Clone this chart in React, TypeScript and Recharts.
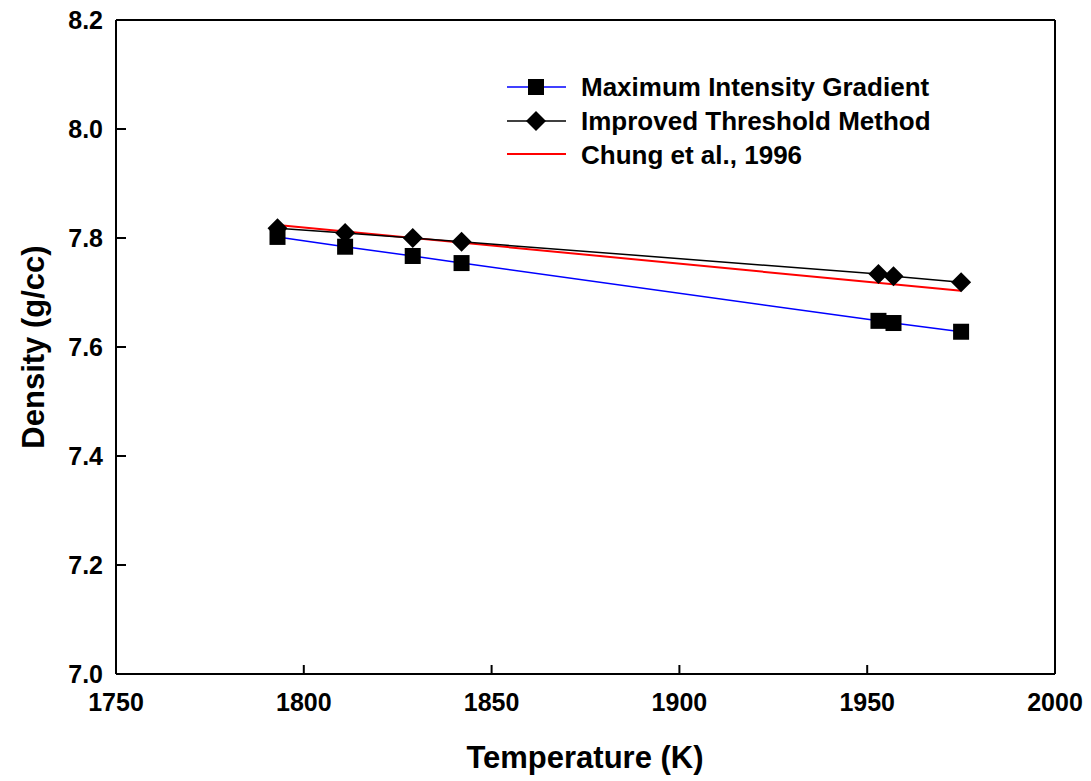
import React from "react";
import { LineChart, Line, XAxis, YAxis } from "recharts";

const temps = [1793, 1811, 1829, 1842, 1953, 1957, 1975];
const migValues = [7.802, 7.784, 7.767, 7.754, 7.648, 7.644, 7.628];
const itmValues = [7.818, 7.809, 7.8, 7.793, 7.734, 7.73, 7.719];
const chungTemps = [1793, 1975];
const chungValues = [7.824, 7.703];
const xTicks = [1750, 1800, 1850, 1900, 1950, 2000];
const yTicks = [7.0, 7.2, 7.4, 7.6, 7.8, 8.0, 8.2];
const seriesNames = ["Maximum Intensity Gradient", "Improved Threshold Method", "Chung et al., 1996"];

const migData = temps.map((t, i) => ({ t, v: migValues[i] }));
const itmData = temps.map((t, i) => ({ t, v: itmValues[i] }));
const chungData = chungTemps.map((t, i) => ({ t, v: chungValues[i] }));

const FONT = "'Liberation Sans', Arial, sans-serif";

const SquareDot = (props: any) => {
  const { cx, cy } = props;
  if (cx == null || cy == null) return null;
  return <rect x={cx - 8} y={cy - 8} width={16} height={16} fill="#000" />;
};
const DiamondDot = (props: any) => {
  const { cx, cy } = props;
  if (cx == null || cy == null) return null;
  const r = 10;
  return <polygon points={`${cx},${cy - r} ${cx + r},${cy} ${cx},${cy + r} ${cx - r},${cy}`} fill="#000" />;
};

const XTick = (props: any) => {
  const { x, payload } = props;
  const y = 674;
  return (
    <g>
      <line x1={x} y1={y} x2={x} y2={y - 9} stroke="#000" strokeWidth={2} />
      <text x={x} y={y + 37} textAnchor="middle" fontFamily={FONT} fontWeight="bold" fontSize={25} fill="#000">
        {payload.value}
      </text>
    </g>
  );
};
const YTick = (props: any) => {
  const { y, payload } = props;
  const x = 116;
  return (
    <g>
      <line x1={x} y1={y} x2={x + 10} y2={y} stroke="#000" strokeWidth={2} />
      <text x={x - 13} y={y + 9} textAnchor="end" fontFamily={FONT} fontWeight="bold" fontSize={25} fill="#000">
        {Number(payload.value).toFixed(1)}
      </text>
    </g>
  );
};

export default function App() {
  return (
    <div style={{ position: "absolute", left: 0, top: 0, width: 1091, height: 781, background: "#fff" }}>
      <LineChart width={1091} height={781} data={migData} margin={{ top: 19, right: 35, bottom: 47, left: 56 }}>
        <XAxis
          xAxisId="b"
          type="number"
          dataKey="t"
          domain={[1750, 2000]}
          ticks={xTicks}
          height={60}
          tickLine={false}
          axisLine={{ stroke: "#000", strokeWidth: 2 }}
          tick={<XTick />}
          allowDataOverflow
        />
        <XAxis
          xAxisId="top"
          orientation="top"
          type="number"
          dataKey="t"
          domain={[1750, 2000]}
          height={1}
          tick={false}
          tickLine={false}
          axisLine={{ stroke: "#000", strokeWidth: 2 }}
        />
        <YAxis
          yAxisId="l"
          type="number"
          domain={[7.0, 8.2]}
          ticks={yTicks}
          width={60}
          tickLine={false}
          axisLine={{ stroke: "#000", strokeWidth: 2 }}
          tick={<YTick />}
          allowDataOverflow
        />
        <YAxis
          yAxisId="r"
          orientation="right"
          type="number"
          domain={[7.0, 8.2]}
          width={1}
          tick={false}
          tickLine={false}
          axisLine={{ stroke: "#000", strokeWidth: 2 }}
        />
        <Line
          xAxisId="b"
          yAxisId="l"
          data={chungData}
          dataKey="v"
          stroke="#ff0000"
          strokeWidth={2}
          dot={false}
          activeDot={false}
          isAnimationActive={false}
        />
        <Line
          xAxisId="b"
          yAxisId="l"
          data={migData}
          dataKey="v"
          stroke="#0000ff"
          strokeWidth={1.5}
          dot={<SquareDot />}
          activeDot={false}
          isAnimationActive={false}
        />
        <Line
          xAxisId="b"
          yAxisId="l"
          data={itmData}
          dataKey="v"
          stroke="#000"
          strokeWidth={1.5}
          dot={<DiamondDot />}
          activeDot={false}
          isAnimationActive={false}
        />
      </LineChart>
      <svg width={1091} height={781} style={{ position: "absolute", left: 0, top: 0, pointerEvents: "none" }}>
        <text x={585} y={768} textAnchor="middle" fontFamily={FONT} fontWeight="bold" fontSize={31} fill="#000">
          Temperature (K)
        </text>
        <text
          x={0}
          y={0}
          transform="translate(44,347) rotate(-90)"
          textAnchor="middle"
          fontFamily={FONT}
          fontWeight="bold"
          fontSize={31}
          fill="#000"
        >
          Density (g/cc)
        </text>
        <g>
          <line x1={507} y1={87} x2={566} y2={87} stroke="#0000ff" strokeWidth={1.5} />
          <rect x={528} y={79} width={16} height={16} fill="#000" />
          <text x={581} y={96} fontFamily={FONT} fontWeight="bold" fontSize={26} fill="#000">
            {seriesNames[0]}
          </text>
          <line x1={507} y1={121} x2={566} y2={121} stroke="#000" strokeWidth={1.5} />
          <polygon points="536,111 546,121 536,131 526,121" fill="#000" />
          <text x={581} y={130} fontFamily={FONT} fontWeight="bold" fontSize={26} fill="#000">
            {seriesNames[1]}
          </text>
          <line x1={507} y1={154} x2={566} y2={154} stroke="#ff0000" strokeWidth={2} />
          <text x={581} y={164} fontFamily={FONT} fontWeight="bold" fontSize={26} fill="#000">
            {seriesNames[2]}
          </text>
        </g>
      </svg>
    </div>
  );
}
